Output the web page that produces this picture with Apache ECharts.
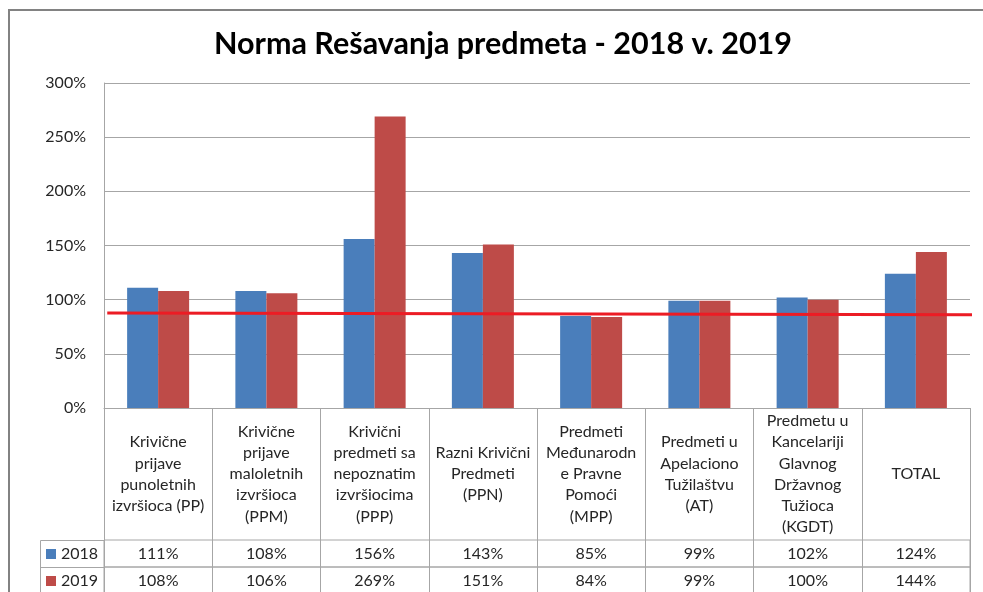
<!DOCTYPE html>
<html>
<head>
<meta charset="utf-8">
<script src="https://cdn.jsdelivr.net/npm/echarts@6/dist/echarts.min.js"></script>
<style>
  html, body { margin: 0; padding: 0; background: #fff; }
  #chart { width: 983px; height: 592px; }
</style>
</head>
<body>
<div id="chart"></div>
<script>
// kategorije (kako su prelomljene u tabeli)
var categories = [
  'Krivične\nprijave\npunoletnih\nizvršioca (PP)',
  'Krivične\nprijave\nmaloletnih\nizvršioca\n(PPM)',
  'Krivični\npredmeti sa\nnepoznatim\nizvršiocima\n(PPP)',
  'Razni Krivični\nPredmeti\n(PPN)',
  'Predmeti\nMeđunarodn\ne Pravne\nPomoći\n(MPP)',
  'Predmeti u\nApelaciono\nTužilaštvu\n(AT)',
  'Predmetu u\nKancelariji\nGlavnog\nDržavnog\nTužioca\n(KGDT)',
  'TOTAL'
]
var values2018 = [111, 108, 156, 143, 85, 99, 102, 124]
var values2019 = [108, 106, 269, 151, 84, 99, 100, 144]
// crvena linija (rucno nacrtana u originalu)
var lineX = [0.03, 8.03]
var lineY = [87.8, 86.0]
var yTicks = [0, 50, 100, 150, 200, 250, 300]

var gray = '#a6a6a6'
var font = 'Lato'
var txt = '#262626'

var chart = echarts.init(document.getElementById('chart'))

function rowAxis(grid, vals) {
  return {
    type: 'category',
    gridIndex: grid,
    data: categories,
    axisLine: { show: false },
    axisTick: { show: true, inside: true, length: 27, interval: 0, lineStyle: { color: gray } },
    axisLabel: {
      inside: true, margin: 13, verticalAlign: 'middle', interval: 0,
      fontFamily: font, fontSize: 16, color: txt,
      formatter: function (v, i) { return vals[i] + '%' }
    },
    splitLine: { show: false }
  }
}

function legendCell(name, top) {
  return {
    data: [name],
    left: 46,
    top: top,
    itemWidth: 10,
    itemHeight: 10,
    icon: 'rect',
    padding: 0,
    textStyle: { fontFamily: font, fontSize: 16, color: txt }
  }
}

var option = {
  backgroundColor: '#fff',
  animation: false,
  title: {
    text: 'Norma Rešavanja predmeta - 2018 v. 2019',
    left: 209,
    top: 24,
    textStyle: { fontFamily: font, fontSize: 30.5, fontWeight: 'bold', color: '#000' }
  },
  legend: [legendCell('2018', 546), legendCell('2019', 573)],
  grid: [
    { left: 104, width: 866, top: 83, height: 325, outerBoundsMode: 'none' },
    { left: 104, width: 866, top: 540, height: 27, show: true, borderColor: gray, borderWidth: 1, outerBoundsMode: 'none' },
    { left: 104, width: 866, top: 567, height: 27, show: true, borderColor: gray, borderWidth: 1, outerBoundsMode: 'none' }
  ],
  xAxis: [
    {
      type: 'category',
      gridIndex: 0,
      data: categories,
      axisLine: { lineStyle: { color: gray } },
      axisTick: { show: true, length: 132, interval: 0, lineStyle: { color: gray } },
      axisLabel: {
        interval: 0, margin: 66, verticalAlign: 'middle',
        fontFamily: font, fontSize: 16, lineHeight: 21.3, color: txt
      }
    },
    { type: 'value', gridIndex: 0, min: 0, max: 8, show: false },
    rowAxis(1, values2018),
    rowAxis(2, values2019)
  ],
  yAxis: [
    {
      type: 'value',
      gridIndex: 0,
      min: yTicks[0],
      max: yTicks[yTicks.length - 1],
      interval: 50,
      axisLine: { show: true, lineStyle: { color: gray } },
      axisTick: { show: false },
      axisLabel: { formatter: '{value}%', margin: 18, fontFamily: font, fontSize: 16, color: txt },
      splitLine: { lineStyle: { color: gray } }
    },
    { type: 'value', gridIndex: 1, show: false },
    { type: 'value', gridIndex: 2, show: false }
  ],
  graphic: [
    // okvir dijagrama
    { type: 'rect', shape: { x: 9, y: 10, width: 1000, height: 600 }, style: { fill: null, stroke: '#828282', lineWidth: 2 } },
    // celije legende
    { type: 'polyline', shape: { points: [[104, 540.5], [40.5, 540.5], [40.5, 600]] }, style: { fill: null, stroke: gray, lineWidth: 1 } },
    { type: 'line', shape: { x1: 40, y1: 567.5, x2: 104, y2: 567.5 }, style: { stroke: gray, lineWidth: 1 } }
  ],
  series: [
    {
      name: '2018', type: 'bar', xAxisIndex: 0, yAxisIndex: 0,
      barWidth: 31, barGap: '0%',
      itemStyle: { color: '#4A7EBB' },
      data: values2018
    },
    {
      name: '2019', type: 'bar', xAxisIndex: 0, yAxisIndex: 0,
      barWidth: 31, barGap: '0%',
      itemStyle: { color: '#BE4B48' },
      data: values2019
    },
    {
      name: 'linija', type: 'line', xAxisIndex: 1, yAxisIndex: 0,
      symbol: 'none', clip: false, silent: true,
      lineStyle: { color: '#EC1C24', width: 3 },
      data: lineX.map(function (x, i) { return [x, lineY[i]] })
    }
  ]
}

chart.setOption(option)
</script>
</body>
</html>
